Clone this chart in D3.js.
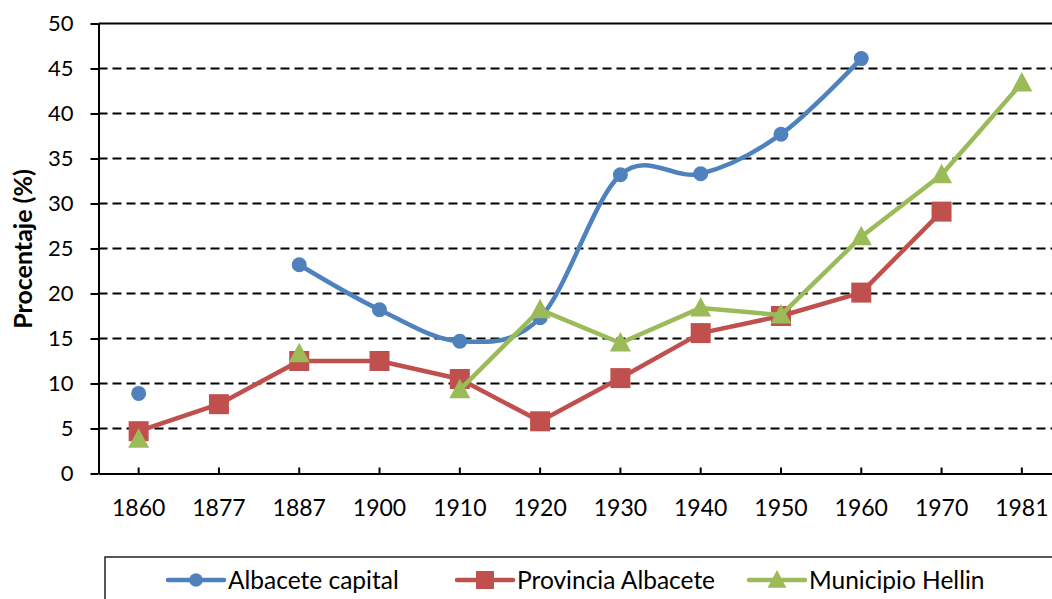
<!DOCTYPE html>
<html>
<head>
<meta charset="utf-8">
<script src="https://cdn.jsdelivr.net/npm/d3@7"></script>
<style>
  body { margin: 0; background: #fff; }
  svg { display: block; font-family: Lato, "Liberation Sans", sans-serif; }
</style>
</head>
<body>
<div id="chart"></div>
<script>
// categories and values (null = no value)
var years = ['1860', '1877', '1887', '1900', '1910', '1920', '1930', '1940', '1950', '1960', '1970', '1981']
var capital = [8.9, null, 23.2, 18.2, 14.7, 17.3, 33.2, 33.3, 37.7, 46.1, null, null]
var provincia = [4.7, 7.7, 12.5, 12.5, 10.5, 5.8, 10.6, 15.6, 17.5, 20.1, 29.1, null]
var hellin = [3.8, null, 13.3, null, 9.3, 18.2, 14.5, 18.4, 17.6, 26.3, 33.2, 43.4]
var yTicks = [0, 5, 10, 15, 20, 25, 30, 35, 40, 45, 50]
var seriesNames = ['Albacete capital', 'Provincia Albacete', 'Municipio Hellin']

var W = 1052, H = 599
var svg = d3.select('#chart').append('svg').attr('width', W).attr('height', H)

var x = d3.scaleBand().domain(years).range([98.5, 1062]).padding(0)
var y = d3.scaleLinear().domain([0, 50]).range([473.5, 23.5])
var cx = function(d) { return x(d) + x.bandwidth() / 2 }

// gridlines
svg.append('g').selectAll('line').data(yTicks.filter(function(d) { return d > 0 }))
  .join('line')
  .attr('x1', 98.5).attr('x2', 1062)
  .attr('y1', function(d) { return y(d) }).attr('y2', function(d) { return y(d) })
  .attr('stroke', '#000').attr('stroke-width', 2)
  .attr('stroke-dasharray', function(d) { return d === 50 ? null : '9,5' })

// axes
var yAxis = d3.axisLeft(y).tickValues(yTicks).tickSizeInner(8).tickSizeOuter(0).tickPadding(17)
var gy = svg.append('g').attr('transform', 'translate(98.5,0)').call(yAxis)
gy.select('.domain').attr('stroke', '#000').attr('stroke-width', 2)
gy.selectAll('.tick line').attr('stroke', '#000').attr('stroke-width', 2)
gy.selectAll('.tick text').attr('font-size', 22).attr('fill', '#000').attr('font-family', 'Lato')

var xAxis = d3.axisBottom(x).tickSizeInner(-6).tickSizeOuter(0).tickPadding(26)
var gx = svg.append('g').attr('transform', 'translate(0,473.5)').call(xAxis)
gx.select('.domain').attr('stroke', '#000').attr('stroke-width', 2)
gx.selectAll('.tick line').attr('stroke', '#000').attr('stroke-width', 2)
gx.selectAll('.tick text').attr('font-size', 23).attr('fill', '#000').attr('font-family', 'Lato')

// y title
svg.append('text')
  .attr('transform', 'translate(32,249) rotate(-90)')
  .attr('text-anchor', 'middle')
  .attr('font-size', 25).attr('font-weight', 'bold')
  .text('Procentaje (%)')

var colors = ['#4F81BD', '#C0504D', '#9BBB59']
var shapes = ['circle', 'square', 'triangle']
var curves = [d3.curveCatmullRom.alpha(0), d3.curveLinear, d3.curveLinear]

function marker(sel, shape, color, s) {
  if (shape === 'circle') sel.append('circle').attr('r', 7.5 * s).attr('fill', color)
  else if (shape === 'square') sel.append('rect').attr('x', -10 * s).attr('y', -10 * s)
    .attr('width', 20 * s).attr('height', 20 * s).attr('fill', color)
  else sel.append('path').attr('d', 'M0,' + (-11 * s) + 'L' + (10.5 * s) + ',' + (8.5 * s) + 'L' + (-10.5 * s) + ',' + (8.5 * s) + 'Z').attr('fill', color)
}

;[capital, provincia, hellin].forEach(function(vals, i) {
  var pts = years.map(function(yr, j) { return {year: yr, v: vals[j]} })
  var line = d3.line()
    .defined(function(d) { return d.v != null })
    .x(function(d) { return cx(d.year) })
    .y(function(d) { return y(d.v) })
    .curve(curves[i])
  var g = svg.append('g')
  g.append('path').attr('d', line(pts)).attr('fill', 'none')
    .attr('stroke', colors[i]).attr('stroke-width', 4.5)
    .attr('stroke-linejoin', 'round').attr('stroke-linecap', 'round')
  g.selectAll('g.m').data(pts.filter(function(d) { return d.v != null }))
    .join('g').attr('class', 'm')
    .attr('transform', function(d) { return 'translate(' + cx(d.year) + ',' + y(d.v) + ')' })
    .each(function() { marker(d3.select(this), shapes[i], colors[i], 1) })
})

// legend
svg.append('rect').attr('x', 105).attr('y', 557).attr('width', 1000).attr('height', 100)
  .attr('fill', 'none').attr('stroke', '#222').attr('stroke-width', 1.5)
var legX = [168, 457, 749]
seriesNames.forEach(function(name, i) {
  var g = svg.append('g').attr('transform', 'translate(' + legX[i] + ',580)')
  g.append('line').attr('x1', 0).attr('x2', 56).attr('stroke', colors[i])
    .attr('stroke-width', 4.5).attr('stroke-linecap', 'round')
  marker(g.append('g').attr('transform', 'translate(28,0)'), shapes[i], colors[i], 0.9)
  g.append('text').attr('x', 60).attr('dy', '0.36em').attr('font-size', 24.5).text(name)
})
</script>
</body>
</html>
